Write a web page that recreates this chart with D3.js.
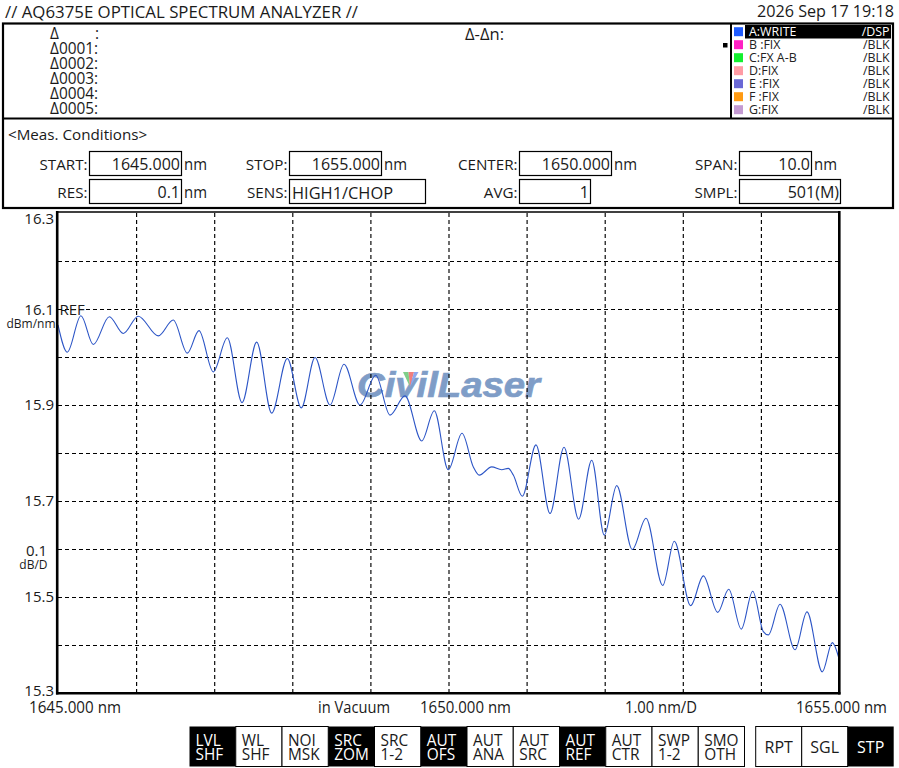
<!DOCTYPE html>
<html><head><meta charset="utf-8">
<script src="https://cdn.jsdelivr.net/npm/d3@7"></script>
<style>html,body{margin:0;padding:0;background:#fff;overflow:hidden}svg{display:block}text{font-family:"Open Sans","Noto Sans",sans-serif;fill:#1a1a1a}</style>
</head><body><svg id="c" width="899" height="768"></svg>
<script>
const wavelengths=[1645.000,1645.119,1645.294,1645.452,1645.657,1645.836,1646.028,1646.284,1646.476,1646.656,1646.805,1646.988,1647.168,1647.356,1647.544,1647.736,1647.936,1648.115,1648.291,1648.483,1648.662,1648.867,1649.068,1649.251,1649.443,1649.657,1649.818,1649.997,1650.173,1650.318,1650.394,1650.553,1650.681,1650.766,1650.830,1650.945,1651.120,1651.300,1651.479,1651.666,1651.834,1651.995,1652.154,1652.353,1652.529,1652.743,1652.891,1653.101,1653.263,1653.447,1653.588,1653.749,1653.895,1654.031,1654.095,1654.245,1654.437,1654.590,1654.786,1654.914,1654.996];
const levels=[16.067,16.010,16.086,16.026,16.084,16.049,16.085,16.044,16.077,16.008,16.055,15.969,16.040,15.905,16.031,15.883,15.997,15.894,15.999,15.900,15.985,15.900,15.962,15.879,15.919,15.825,15.888,15.765,15.841,15.771,15.754,15.771,15.765,15.768,15.754,15.710,15.817,15.674,15.812,15.662,15.785,15.629,15.732,15.599,15.664,15.524,15.616,15.482,15.544,15.468,15.516,15.433,15.512,15.428,15.421,15.485,15.390,15.469,15.344,15.405,15.374];
const gridWavelengths=[1646,1647,1648,1649,1650,1651,1652,1653,1654];
const gridLevels=[16.2,16.1,16.0,15.9,15.8,15.7,15.6,15.5,15.4];
const levelTicks=[16.3,15.9,15.7,15.5,15.3];
const markerRows=["Δ","Δ0001:","Δ0002:","Δ0003:","Δ0004:","Δ0005:"];
const traceNames=["A:WRITE","B :FIX","C:FX A-B","D:FIX","E :FIX","F :FIX","G:FIX"];
const traceModes=["/DSP","/BLK","/BLK","/BLK","/BLK","/BLK","/BLK"];
const traceColors=["#1f5cff","#ff20c4","#12f02e","#ff9ba4","#6a68d6","#ff9a12","#c49ad2"];
const buttonTop=["LVL","WL","NOI","SRC","SRC","AUT","AUT","AUT","AUT","AUT","SWP","SMO"];
const buttonBottom=["SHF","SHF","MSK","ZOM","1-2","OFS","ANA","SRC","REF","CTR","1-2","OTH"];
const buttonOn=[1,0,0,1,0,1,0,0,1,0,0,0];
const sweepButtons=["RPT","SGL","STP"];
const sweepOn=[0,0,1];

const svg=d3.select("#c");
const W=839-58;
const x=d3.scaleLinear().domain([1645,1655]).range([58,839]);
const y=d3.scaleLinear().domain([15.3,16.3]).range([693,213]);
const T=(s,px,py,fs,anchor,fill,len)=>{
  const t=svg.append("text").attr("x",px).attr("y",py).attr("font-size",fs).attr("text-anchor",anchor||"start").attr("dominant-baseline","central").style("fill",fill||"#1a1a1a").text(s);
  if(len)t.attr("textLength",len).attr("lengthAdjust","spacingAndGlyphs");
  return t;
};
// several lines kept as one text element
const ML=(rows,px,py,lh,fs,anchor,fillFn)=>{
  const t=svg.append("text").attr("font-size",fs).attr("text-anchor",anchor||"start");
  rows.forEach((r,i)=>t.append("tspan").attr("x",px).attr("y",py+i*lh).attr("dominant-baseline","central").style("fill",fillFn?fillFn(i):"#1a1a1a").text(r));
  return t;
};
const L=(a,b,c,d,w)=>svg.append("line").attr("x1",a).attr("y1",b).attr("x2",c).attr("y2",d).attr("stroke","#000").attr("stroke-width",w);
const R=(a,b,w,h,fill,sw)=>svg.append("rect").attr("x",a).attr("y",b).attr("width",w).attr("height",h).attr("fill",fill).attr("stroke",sw?"#000":"none").attr("stroke-width",sw||0);

// header
T("// AQ6375E OPTICAL SPECTRUM ANALYZER //",5,11,17,"start",null,353);
T("2026 Sep 17 19:18",757,11,16,"start",null,137);
// upper panel
R(3,23.5,890,184.5,"none",2.2);
L(3,118.5,893,118.5,2);
L(731,23,731,118,2);
ML(markerRows,50,33,15,15.4);
T(":",95,33,15.4);
T("Δ-Δn:",465,33.5,15.6,"start",null,39);
R(723,43,4.5,4.5,"#000");
R(745,25,146,13.5,"#000");
traceColors.forEach((c,i)=>R(734,31.7+i*13-4.5,9,9,c));
const wh=i=>i?"#222":"#fff";
ML(traceNames,749,31.7,13,12.4,"start",wh);
ML(traceModes,889.5,31.7,13,12.4,"end",wh);
T("<Meas. Conditions>",8,133.5,15.2);
const field=(label,lx,bx,bw,by,val,anchor,unit)=>{
  T(label,lx,by+12.5,15.2,"end");
  R(bx+.5,by+.5,bw,24,"#fff",1.2);
  if(anchor==="end")T(val,bx+bw-1,by+13,16,"end");else T(val,bx+3,by+13,16.4);
  if(unit)T(unit,bx+bw+3,by+13,16,"start",null,23);
};
field("START:",87.5,89,92,151,"1645.000","end","nm");
field("STOP:",287.5,289,92,151,"1655.000","end","nm");
field("CENTER:",517.5,519,92,151,"1650.000","end","nm");
field("SPAN:",737.5,739,72,151,"10.0","end","nm");
field("RES:",87.5,89,92,179,"0.1","end","nm");
field("SENS:",287.5,289,136,179,"HIGH1/CHOP","start");
field("AVG:",517.5,519,71,179,"1","end");
field("SMPL:",737.5,739,101,179,"501(M)","end");

// watermark
svg.append("text").attr("x",357).attr("y",396.5).attr("font-size",35).attr("font-weight",700).attr("font-style","italic").attr("textLength",183).attr("lengthAdjust","spacingAndGlyphs").attr("stroke","#7f9dc7").attr("stroke-width",0.7).style("font-family","'Liberation Sans',Arial,sans-serif").style("fill","#7f9dc7").text("CivilLaser");
[["#7fcf8a","403,372 408.5,372 410,387"],["#f07f7f","408.5,372 414,372 410,387"],["#8fa8ee","414,372 418.5,372 410,387"]].forEach(([c,p])=>svg.append("polygon").attr("points",p).attr("fill",c));

// grid through the library's axes
const gx=svg.append("g").attr("transform","translate(0,693)").call(d3.axisBottom(x).tickValues(gridWavelengths).tickSize(-480).tickFormat(""));
const gy=svg.append("g").attr("transform","translate(58,0)").call(d3.axisLeft(y).tickValues(gridLevels).tickSize(-W).tickFormat(""));
[gx,gy].forEach(g=>{g.select(".domain").remove();g.selectAll("line").attr("stroke","#000").attr("stroke-width",1.15).attr("stroke-dasharray","4,3");});

// trace
const line=d3.line().x((d,i)=>x(wavelengths[i])).y(d=>y(d)).curve(d3.curveMonotoneX);
svg.append("path").datum(levels).attr("d",line).attr("fill","none").attr("stroke","#2c55c6").attr("stroke-width",1.1);

// frame
L(57.2,211,57.2,694.5,2.6);
L(56,212,840,212,1.4);
L(839.3,211,839.3,694.5,2.6);
L(56,693.3,840.5,693.3,2.6);

// level labels
levelTicks.forEach(v=>{
  const off=v===16.3?4.5:v===15.3?-3.5:-1;
  T(d3.format(".1f")(v),54,y(v)+off,15,"end");
});
const two=(a,fa,b,fb,px,py,dy)=>{
  const t=svg.append("text").attr("text-anchor","end");
  t.append("tspan").attr("x",px[0]).attr("y",py).attr("dominant-baseline","central").attr("font-size",fa).text(a);
  t.append("tspan").attr("x",px[1]).attr("y",py+dy).attr("dominant-baseline","central").attr("font-size",fb).text(b);
};
two("16.1",15,"dBm/nm",12,[54,55.5],y(16.1)-0.5,15);
T("REF",59.5,309,15);
two("0.1",15,"dB/D",12,[47,47.5],y(15.9-0.1*3)+0.5,15);
// wavelength labels
T("1645.000 nm",29,707.5,15.4,"start",null,92);
T("in Vacuum",318,707.5,15.4,"start",null,72);
T("1650.000 nm",420,707.5,15.4,"start",null,91);
T("1.00 nm/D",625,707.5,15.4,"start",null,72);
T("1655.000 nm",796,707.5,15.4,"start",null,91);

// buttons
const bw=46.25;
buttonTop.forEach((s,i)=>{
  const bx=189.5+i*bw, on=buttonOn[i];
  R(bx,726.5,bw,40,on?"#000":"#fff",on?0:1);
  const c=on?"#fff":"#1a1a1a";
  ML([s,buttonBottom[i]],bx+6,740,14,15.4,"start",()=>c);
});
sweepButtons.forEach((s,i)=>{
  const bx=755.7+i*46, on=sweepOn[i];
  R(bx,726.5,46,40,on?"#000":"#fff",on?0:1);
  T(s,bx+23,746.5,16,"middle",on?"#fff":"#1a1a1a");
});
</script></body></html>
